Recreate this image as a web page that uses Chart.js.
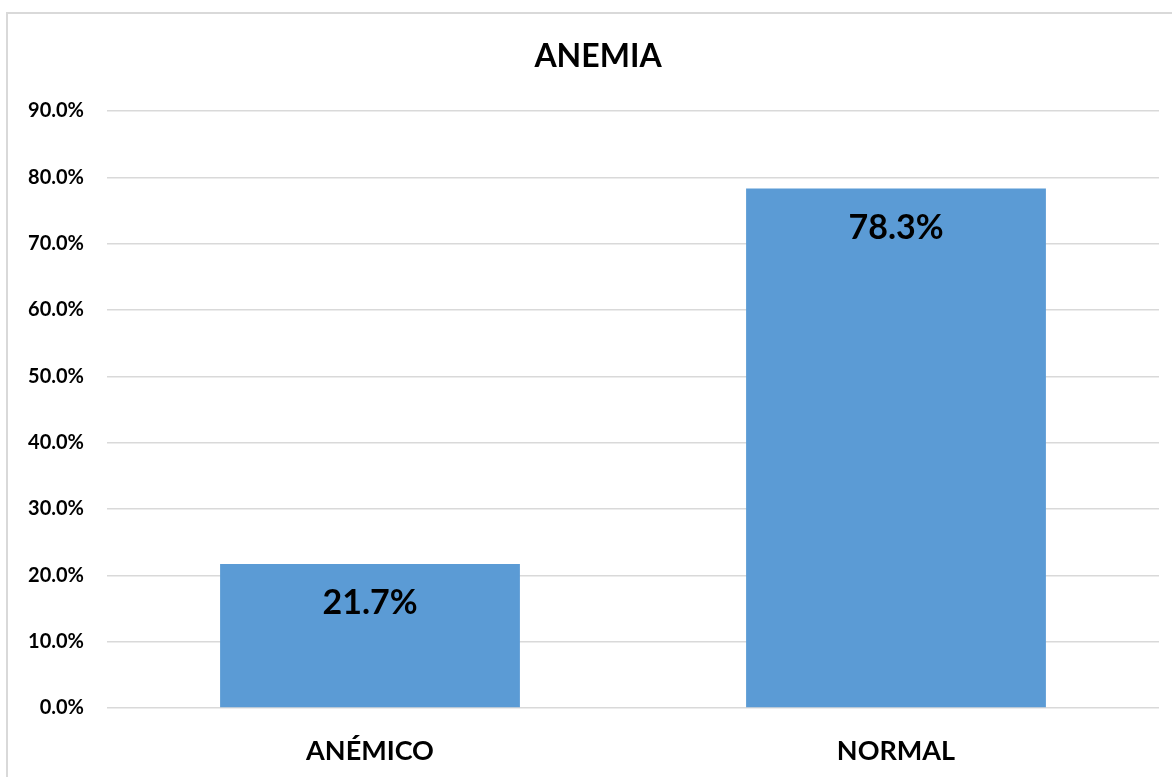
<!DOCTYPE html>
<html>
<head>
<meta charset="utf-8">
<script src="https://cdn.jsdelivr.net/npm/chart.js@4"></script>
<style>
  html, body { margin: 0; padding: 0; background: #fff; overflow: hidden; }
  #frame { position: absolute; left: 6px; top: 12px; width: 1200px; height: 800px; border: 2px solid #d9d9d9; box-sizing: border-box; }
  #wrap { position: absolute; left: 0; top: 0; width: 1172px; height: 777px; }
</style>
</head>
<body>
<div id="frame"></div>
<div id="wrap"><canvas id="anemiaChart"></canvas></div>
<script>
var chartTitle = 'ANEMIA';
var categories = ['ANÉMICO', 'NORMAL'];
var values = [21.7, 78.3];
var tickValues = [0, 10, 20, 30, 40, 50, 60, 70, 80, 90];

var font = 'Lato, "Open Sans", sans-serif';

// title centred over the whole frame (not the plot), and labels inside the top of each bar
const chartText = {
  id: 'chartText',
  afterDraw(chart) {
    const ctx = chart.ctx;
    ctx.save();
    ctx.fillStyle = '#000';
    ctx.textAlign = 'center';
    ctx.textBaseline = 'middle';
    ctx.font = 'bold 32px ' + font;
    ctx.fillText(chartTitle, 598, 57);
    ctx.font = 'bold 34px ' + font;
    chart.getDatasetMeta(0).data.forEach((bar, i) => {
      ctx.fillText(values[i].toFixed(1) + '%', bar.x, bar.y + 39);
    });
    ctx.restore();
  }
};

const data = {
  labels: categories,
  datasets: [{
    label: chartTitle,
    data: values,
    backgroundColor: '#5b9bd5',
    categoryPercentage: 1,
    barPercentage: 0.57
  }]
};

const config = {
  type: 'bar',
  data: data,
  options: {
    responsive: true,
    maintainAspectRatio: false,
    animation: false,
    layout: { padding: { left: 10, right: 13, top: 111, bottom: 0 } },
    plugins: {
      legend: { display: false },
      tooltip: { enabled: false }
    },
    scales: {
      x: {
        grid: { display: false, drawTicks: false },
        border: { display: false },
        ticks: { color: '#000', font: { family: font, size: 27, weight: 'bold' }, padding: 27 },
        afterFit: (s) => { s.height = 777 - 708; }
      },
      y: {
        min: 0,
        max: 90,
        grid: { color: '#d9d9d9', lineWidth: 1.5, drawTicks: false },
        border: { display: false },
        afterBuildTicks: (s) => { s.ticks = tickValues.map(v => ({ value: v })); },
        afterFit: (s) => { s.width = 97; },
        ticks: {
          color: '#000',
          padding: 23,
          font: { family: font, size: 20, weight: 'bold' },
          callback: (v) => v.toFixed(1) + '%'
        }
      }
    }
  },
  plugins: [chartText]
};

var anemiaChart = new Chart(document.getElementById('anemiaChart').getContext('2d'), config);
</script>
</body>
</html>
